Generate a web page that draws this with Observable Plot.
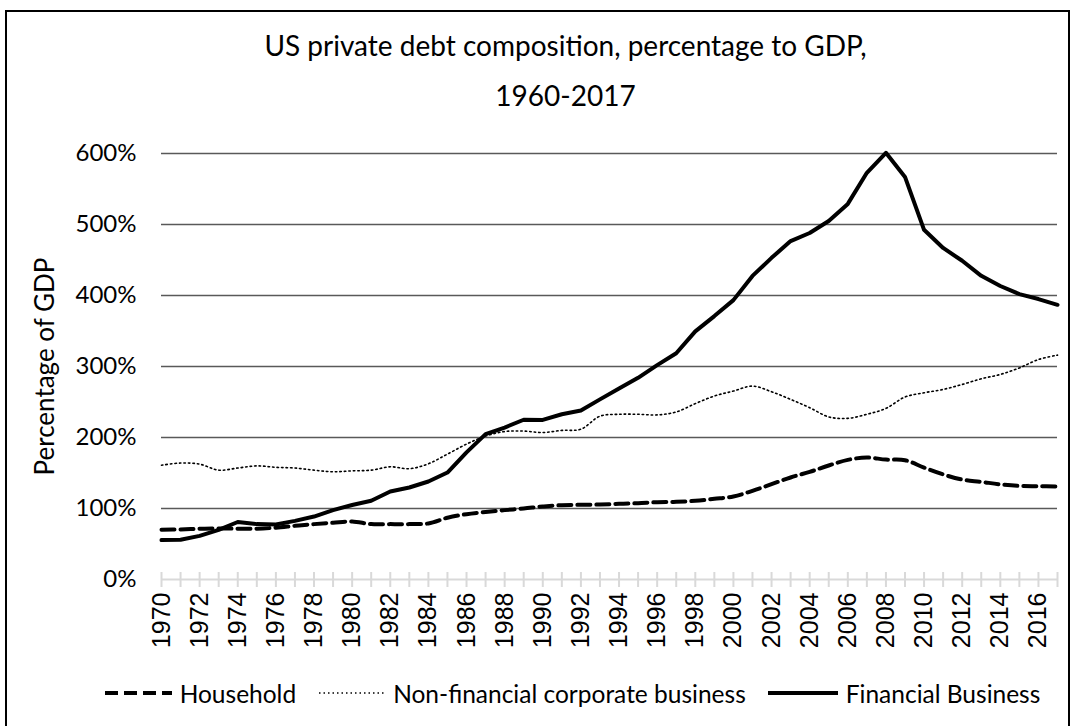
<!DOCTYPE html>
<html>
<head>
<meta charset="utf-8">
<script src="https://cdn.jsdelivr.net/npm/d3@7"></script>
<script src="https://cdn.jsdelivr.net/npm/@observablehq/plot@0.6"></script>
<style>
  html, body { margin: 0; padding: 0; background: #fff; overflow: hidden; }
  body { width: 1075px; height: 726px; position: relative; font-family: Lato, "Open Sans", sans-serif; color: #000; }
  #frame { position: absolute; left: 5px; top: 10px; width: 1065px; height: 760px; border: 2px solid #000; box-sizing: border-box; }
  #title { position: absolute; left: 65px; top: 20px; width: 1001px; text-align: center; font-size: 28px; line-height: 50px; }
  #chart { position: absolute; left: 0; top: 130px; }
  #legend { position: absolute; left: 0; top: 676px; width: 1145px; height: 34px; display: flex; justify-content: center; align-items: center; font-size: 24.5px; white-space: nowrap; }
  #legend .item { display: flex; align-items: center; }
  #legend svg { display: block; }
</style>
</head>
<body>
<div id="frame"></div>
<div id="title">US private debt composition, percentage to GDP,<br>1960-2017</div>
<div id="chart"></div>
<div id="legend"></div>
<script>
const years = [1970,1971,1972,1973,1974,1975,1976,1977,1978,1979,1980,1981,1982,1983,1984,1985,1986,1987,1988,1989,1990,1991,1992,1993,1994,1995,1996,1997,1998,1999,2000,2001,2002,2003,2004,2005,2006,2007,2008,2009,2010,2011,2012,2013,2014,2015,2016,2017];

const household = [70,70.5,71.4,72,71.5,71.5,73,75.6,78,80,81.7,78,78,78,79,87,92,95,97.7,100,102.8,104.7,105.2,105.6,106.6,107.5,108.9,109.4,110.8,113.6,116.9,124.9,134.3,143.7,151.6,160.6,168.5,171.8,168.9,168,157.6,148,140.7,137.5,134,131.8,131.4,131];

const nonFinancial = [161,164,162.5,154,157,160,158,157,154,151.7,153,154,158.7,156,163,176.6,190.7,202,208.4,209,207,210,211.7,230,232.7,232.7,231.8,236,247.7,258.4,265.4,272.4,264.5,253.7,242,229,227,232.7,241,257,263,267.7,274.7,282.7,288.8,298,309.8,316];

const financial = [55.5,56,61.5,70,81,78,77.5,82.6,88.7,97.7,105,111,124,129.6,138,150.7,179,204.7,214,225,224.8,232.7,238,253.7,269,284,302,318.7,349.5,371,393.5,427.6,453,476.6,488,505,529,572.8,601,567,492.5,467,448.9,427.7,413.4,402,395,386.9];

const seriesNames = ["Household", "Non-financial corporate business", "Financial Business"];
const yTicks = [0, 100, 200, 300, 400, 500, 600];
const xTickLabels = years.filter(y => y % 2 === 0);
const yLabel = "Percentage of GDP";

const rows = (vals, name) => years.map((year, i) => ({year, value: vals[i], series: name}));
const hh = rows(household, seriesNames[0]);
const nf = rows(nonFinancial, seriesNames[1]);
const fb = rows(financial, seriesNames[2]);

const styles = {
  [seriesNames[0]]: {strokeWidth: 4, strokeDasharray: "13,6", curve: "catmull-rom"},
  [seriesNames[1]]: {strokeWidth: 1.6, strokeDasharray: "1.5,3", curve: "catmull-rom"},
  [seriesNames[2]]: {strokeWidth: 4, strokeDasharray: null, curve: "linear"}
};

const chart = Plot.plot({
  width: 1075,
  height: 535,
  marginLeft: 161,
  marginRight: 18,
  marginTop: 23,
  marginBottom: 86,
  style: {fontFamily: "Lato, 'Open Sans', sans-serif", fontSize: "24px", color: "#000", background: "transparent", overflow: "visible"},
  x: {domain: [1970, 2017], label: null},
  y: {domain: [0, 600], label: null},
  marks: [
    Plot.gridY(yTicks.filter(d => d > 0), {stroke: "#595959", strokeOpacity: 1, strokeWidth: 1.5}),
    Plot.ruleY([0], {stroke: "#d9d9d9", strokeWidth: 2}),
    Plot.axisX({ticks: years, tickSize: 15, dy: -7, tickFormat: () => "", stroke: "#d9d9d9", strokeWidth: 2}),
    Plot.axisX({ticks: xTickLabels, tickSize: 0, tickPadding: 13, tickRotate: -90, tickFormat: d => String(d), fontFamily: "'Liberation Sans', Arial, sans-serif", fontSize: 25, fill: "#000"}),
    Plot.axisY({ticks: yTicks, tickSize: 0, tickPadding: 25, tickFormat: d => d + "%", fill: "#000"}),
    Plot.text([yLabel], {frameAnchor: "left", rotate: -90, dx: -116, textAnchor: "middle", fontSize: 26, text: d => d, fill: "#000"}),
    Plot.line(nf, {x: "year", y: "value", stroke: "#000", ...styles[seriesNames[1]]}),
    Plot.line(hh, {x: "year", y: "value", stroke: "#000", ...styles[seriesNames[0]]}),
    Plot.line(fb, {x: "year", y: "value", stroke: "#000", ...styles[seriesNames[2]]})
  ]
});
document.getElementById("chart").appendChild(chart);

// Legend
const legend = document.getElementById("legend");
const sampleW = [67, 66, 70];
const gapsAfterText = [23, 22, 0];
seriesNames.forEach((name, i) => {
  const s = styles[name];
  const item = document.createElement("div");
  item.className = "item";
  item.style.marginRight = gapsAfterText[i] + "px";
  const w = sampleW[i];
  item.innerHTML = `<svg width="${w}" height="10"><line x1="0" x2="${w}" y1="5" y2="5" stroke="#000" stroke-width="${s.strokeWidth}" ${s.strokeDasharray ? `stroke-dasharray="${s.strokeDasharray}"` : ""}/></svg><span style="margin-left:8px">${name}</span>`;
  legend.appendChild(item);
});
</script>
</body>
</html>
